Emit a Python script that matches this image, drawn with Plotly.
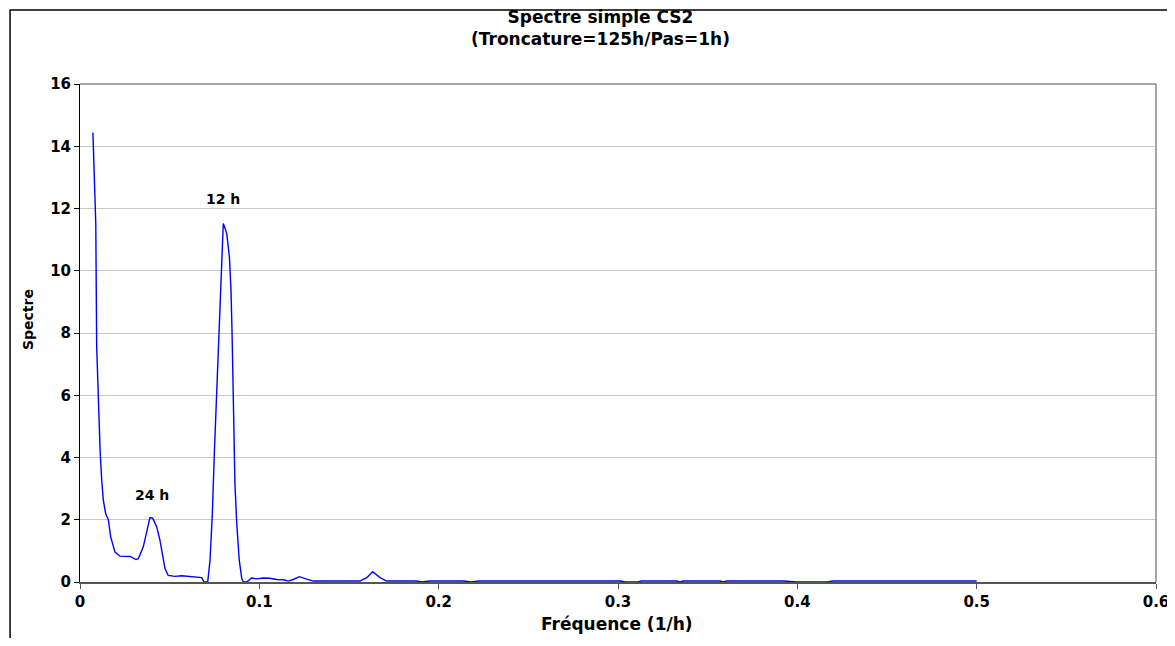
import plotly.graph_objects as go

freq = [0.0072, 0.0076, 0.0088, 0.0093, 0.0104, 0.0112, 0.0121, 0.0130, 0.0143, 0.0158,
        0.0171, 0.0195, 0.0223, 0.0279, 0.0312, 0.0325, 0.0353, 0.0368, 0.0390, 0.0405,
        0.0428, 0.0446, 0.0465, 0.0474, 0.0492, 0.0530, 0.0567, 0.0604, 0.0641, 0.0679,
        0.0691, 0.0712, 0.0725, 0.0738, 0.0749, 0.0762, 0.0777, 0.0786, 0.0794, 0.0799,
        0.0807, 0.0818, 0.0833, 0.0842, 0.0848, 0.0855, 0.0864, 0.0874, 0.0888, 0.0902,
        0.0911, 0.0930, 0.0957, 0.0985, 0.1022, 0.1059, 0.1097, 0.1134, 0.1162, 0.1189,
        0.1223, 0.1264, 0.1301, 0.1561, 0.1599, 0.1632, 0.1654, 0.1673, 0.1710, 0.1877,
        0.1905, 0.1950, 0.2138, 0.2184, 0.2221, 0.3011, 0.3040, 0.3110, 0.3132, 0.3327,
        0.3345, 0.3364, 0.3569, 0.3588, 0.3606, 0.3922, 0.3997, 0.4164, 0.4200, 0.5000]
spectre = [14.44, 13.67, 11.52, 7.56, 5.41, 4.23, 3.27, 2.63, 2.20, 2.00,
           1.45, 0.96, 0.83, 0.82, 0.72, 0.75, 1.13, 1.56, 2.07, 2.05,
           1.77, 1.34, 0.80, 0.43, 0.21, 0.18, 0.20, 0.18, 0.14, 0.14,
           0.00, 0.00, 0.70, 2.20, 4.13, 5.95, 8.20, 9.60, 10.88, 11.52,
           11.40, 11.20, 10.45, 9.38, 7.99, 5.52, 3.16, 1.88, 0.70, 0.11,
           0.00, 0.00, 0.13, 0.10, 0.13, 0.12, 0.08, 0.07, 0.03, 0.08,
           0.17, 0.09, 0.03, 0.03, 0.14, 0.33, 0.21, 0.14, 0.03, 0.03,
           0.00, 0.03, 0.03, 0.00, 0.03, 0.03, 0.00, 0.00, 0.03, 0.03,
           0.00, 0.03, 0.03, 0.00, 0.03, 0.03, 0.00, 0.00, 0.03, 0.03]

peak_labels = ["24 h", "12 h"]
peak_x = [0.040, 0.080]
peak_y = [2.8, 12.3]

title_lines = ["Spectre simple CS2", "(Troncature=125h/Pas=1h)"]
x_title = "Fréquence (1/h)"
y_title = "Spectre"

x_ticks = [0, 0.1, 0.2, 0.3, 0.4, 0.5, 0.6]
y_ticks = [0, 2, 4, 6, 8, 10, 12, 14, 16]

FONT = "DejaVu Sans, Arial, sans-serif"

fig = go.Figure()
fig.add_trace(go.Scatter(x=freq, y=spectre, mode="lines",
                         line=dict(color="#0000FF", width=1.4), showlegend=False,
                         hoverinfo="x+y"))

for lab, xx, yy in zip(peak_labels, peak_x, peak_y):
    fig.add_annotation(x=xx, y=yy, text="<b>%s</b>" % lab, showarrow=False,
                       font=dict(family=FONT, size=14, color="black"))

# chart title (two lines, one text block)
fig.add_annotation(xref="paper", yref="paper", x=0.484, y=1.113,
                   text="<b>%s<br>%s</b>" % (title_lines[0], title_lines[1]),
                   showarrow=False, xanchor="center", yanchor="middle",
                   font=dict(family=FONT, size=17, color="black"))
fig.add_annotation(xref="paper", yref="paper", x=0.4988, y=-0.0843, text="<b>%s</b>" % x_title,
                   showarrow=False, xanchor="center", yanchor="middle",
                   font=dict(family=FONT, size=17, color="black"))
fig.add_annotation(xref="paper", yref="paper", x=-0.0483, y=0.526, text="<b>%s</b>" % y_title,
                   showarrow=False, xanchor="center", yanchor="middle", textangle=-90,
                   font=dict(family=FONT, size=14, color="black"))

fig.update_layout(
    width=1165, height=630,
    margin=dict(l=72, r=17, t=76, b=56, autoexpand=False),
    paper_bgcolor="white", plot_bgcolor="white",
    font=dict(family=FONT, color="black"),
    xaxis=dict(range=[0, 0.6], tickvals=x_ticks, ticktext=["<b>%g</b>" % v for v in x_ticks],
               showgrid=False, zeroline=False, showline=True, linecolor="#555555", linewidth=1.5,
               ticks="outside", ticklen=5, tickcolor="#555555", automargin=False,
               tickfont=dict(family=FONT, size=15)),
    yaxis=dict(range=[0, 16], tickvals=y_ticks, ticktext=["<b>%d</b>" % v for v in y_ticks],
               showgrid=True, gridcolor="#c8c8c8", gridwidth=1, zeroline=False,
               showline=True, linecolor="black", linewidth=1, automargin=False,
               ticks="outside", ticklen=5, tickcolor="black",
               tickfont=dict(family=FONT, size=15)),
)

# plot-area border (top and right in gray)
fig.add_shape(type="line", xref="paper", yref="paper", x0=0, x1=1, y0=1, y1=1,
              line=dict(color="#888888", width=1.5))
fig.add_shape(type="line", xref="paper", yref="paper", x0=1, x1=1, y0=0, y1=1,
              line=dict(color="#888888", width=1.5))
# outer chart border
fig.add_shape(type="rect", xref="paper", yref="paper", x0=-0.065, x1=1.0139, y0=-0.2, y1=1.1486,
              line=dict(color="black", width=1.5), layer="below")

fig.write_html("out.html")
